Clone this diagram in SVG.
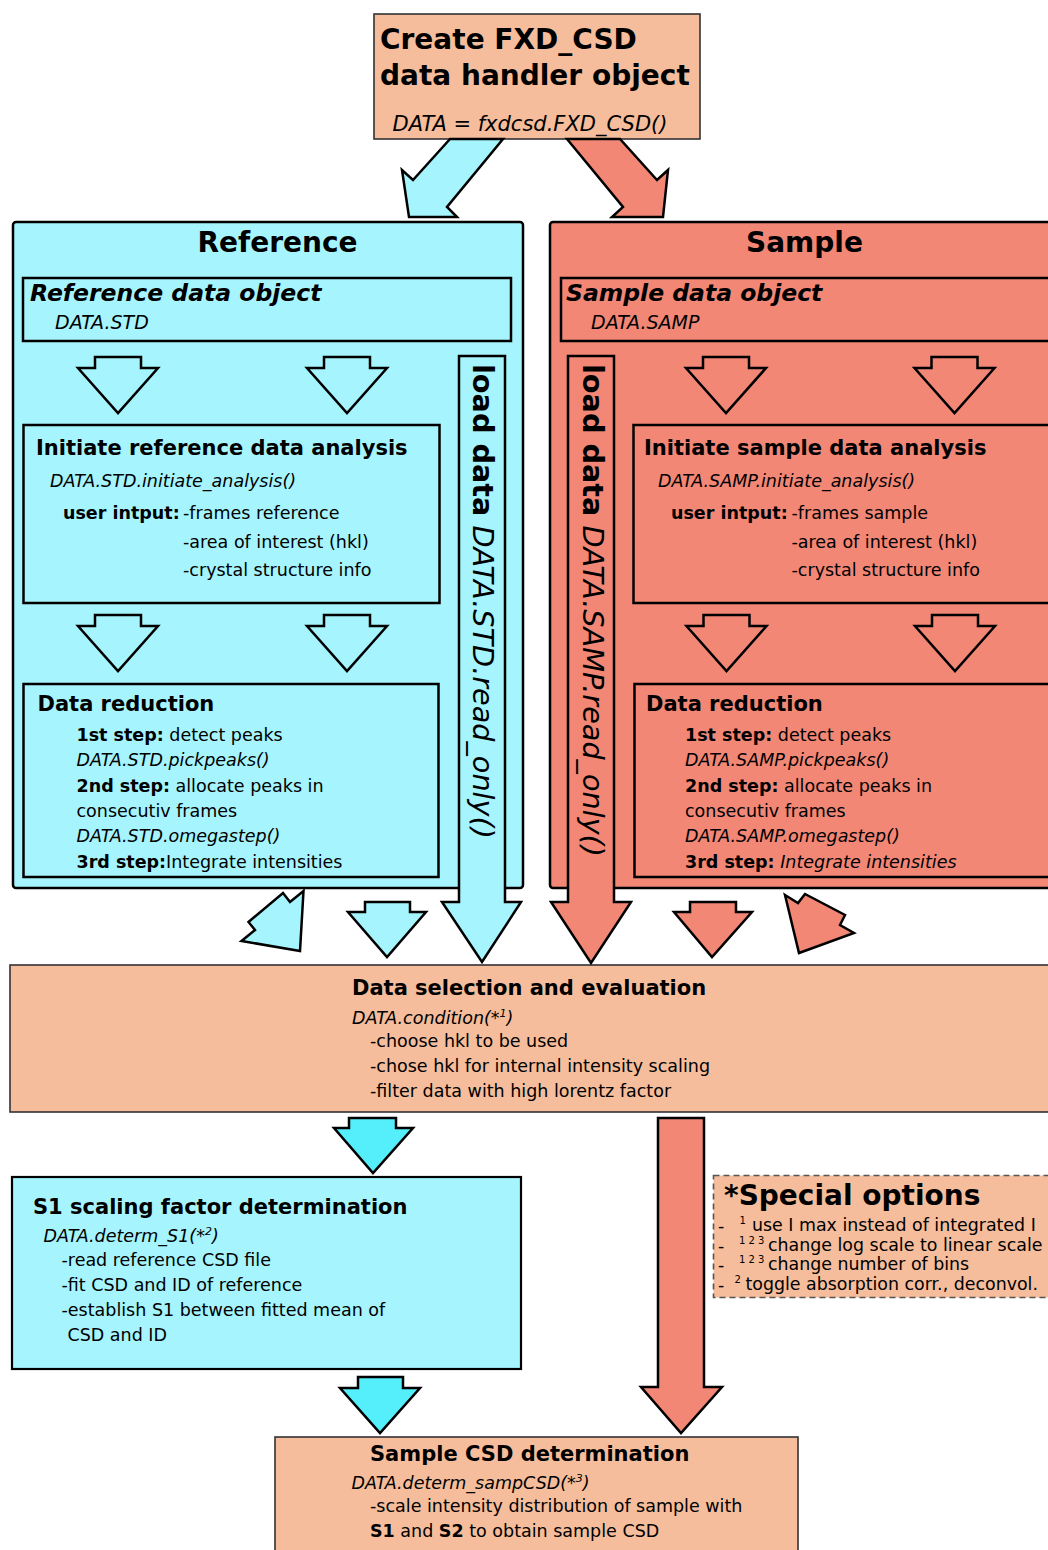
<svg xmlns="http://www.w3.org/2000/svg" xmlns:xlink="http://www.w3.org/1999/xlink" width="1048" height="1550" viewBox="0 0 1048 1550">
<style>
text{font-family:"DejaVu Sans","Liberation Sans",sans-serif;fill:#000}
.body{font-size:17.5px}
.h{font-size:21px;font-weight:bold}
.big{font-size:28px;font-weight:bold}
.obj{font-size:23.5px;font-weight:bold;font-style:italic}
.sub{font-size:19px;font-style:italic}
.b{font-weight:bold}
.i{font-style:italic}
.sup{font-size:11px}
.sp{font-size:10px}
.peach{fill:#f5bd9b;stroke:#333;stroke-width:1.6}
.frame{fill:none;stroke:#000;stroke-width:2.5}
.ar{stroke:#000;stroke-width:2.5;stroke-linejoin:miter}
.hollow{fill:none;stroke:#000;stroke-width:2.5}
.cyan{fill:#a6f4fe}
.salmon{fill:#f28776}
.bright{fill:#55effc}
</style>
<defs>
<path id="hollow" d="M-23,0 H23 V11 H40 L0,56 L-40,11 H-23 Z"/>
</defs>

<g id="node-create">
<rect x="374" y="14" width="326" height="125" class="peach"/>
<text x="380" y="48.5" class="big">Create FXD_CSD</text>
<text x="380" y="85" class="big">data handler object</text>
<text x="392.5" y="131" class="i" font-size="21">DATA = fxdcsd.FXD_CSD()</text>
</g>

<g id="node-reference">
<rect x="13" y="222" width="510" height="666" rx="3" class="cyan" stroke="#000" stroke-width="2.5"/>
<text x="277.5" y="252" class="big" text-anchor="middle">Reference</text>
</g>

<g id="node-sample">
<rect x="550" y="222" width="520" height="666" rx="3" class="salmon" stroke="#000" stroke-width="2.5"/>
<text x="804.5" y="252" class="big" text-anchor="middle">Sample</text>
</g>

<g id="node-ref-object">
<rect x="23" y="278" width="488" height="63" class="frame"/>
<text x="30" y="301" class="obj">Reference data object</text>
<text x="55" y="329" class="sub">DATA.STD</text>
</g>

<g id="node-samp-object">
<rect x="561" y="278" width="500" height="63" class="frame"/>
<text x="566" y="301" class="obj">Sample data object</text>
<text x="591" y="329" class="sub">DATA.SAMP</text>
</g>

<g id="node-ref-init">
<rect x="23.5" y="425" width="416" height="178" class="frame"/>
<text x="36" y="455" class="h">Initiate reference data analysis</text>
<text x="50" y="487" class="body i">DATA.STD.initiate_analysis()</text>
<text x="63" y="519" class="body b">user intput:</text>
<text x="183" y="519" class="body">-frames reference</text>
<text x="183" y="547.5" class="body">-area of interest (hkl)</text>
<text x="183" y="576" class="body">-crystal structure info</text>
</g>

<g id="node-samp-init">
<rect x="633.5" y="425" width="430" height="178" class="frame"/>
<text x="644" y="455" class="h">Initiate sample data analysis</text>
<text x="658" y="487" class="body i">DATA.SAMP.initiate_analysis()</text>
<text x="671" y="519" class="body b">user intput:</text>
<text x="791.5" y="519" class="body">-frames sample</text>
<text x="791.5" y="547.5" class="body">-area of interest (hkl)</text>
<text x="791.5" y="576" class="body">-crystal structure info</text>
</g>

<g id="node-ref-reduction">
<rect x="23.5" y="684" width="415" height="193" class="frame"/>
<text x="37.5" y="711" class="h">Data reduction</text>
<text x="76.5" y="741" class="body"><tspan class="b">1st step:</tspan> detect peaks</text>
<text x="76.5" y="766" class="body i">DATA.STD.pickpeaks()</text>
<text x="76.5" y="792" class="body"><tspan class="b">2nd step:</tspan> allocate peaks in</text>
<text x="76.5" y="817" class="body">consecutiv frames</text>
<text x="76.5" y="842" class="body i">DATA.STD.omegastep()</text>
<text x="76.5" y="867.5" class="body"><tspan class="b">3rd step:</tspan>Integrate intensities</text>
</g>

<g id="node-samp-reduction">
<rect x="634.5" y="684" width="430" height="193" class="frame"/>
<text x="646" y="711" class="h">Data reduction</text>
<text x="685" y="741" class="body"><tspan class="b">1st step:</tspan> detect peaks</text>
<text x="685" y="766" class="body i">DATA.SAMP.pickpeaks()</text>
<text x="685" y="792" class="body"><tspan class="b">2nd step:</tspan> allocate peaks in</text>
<text x="685" y="817" class="body">consecutiv frames</text>
<text x="685" y="842" class="body i">DATA.SAMP.omegastep()</text>
<text x="685" y="867.5" class="body"><tspan class="b">3rd step:</tspan> <tspan class="i">Integrate intensities</tspan></text>
</g>

<g id="node-selection">
<rect x="10" y="965" width="1050" height="147" class="peach"/>
<text x="352" y="995" class="h">Data selection and evaluation</text>
<text x="352" y="1024" class="body i">DATA.condition(*<tspan class="sup" dy="-7">1</tspan><tspan dy="7">)</tspan></text>
<text x="370" y="1047" class="body">-choose hkl to be used</text>
<text x="370" y="1072" class="body">-chose hkl for internal intensity scaling</text>
<text x="370" y="1097" class="body">-filter data with high lorentz factor</text>
</g>

<g id="node-s1">
<rect x="12" y="1177" width="509" height="192" class="cyan" stroke="#000" stroke-width="2.2"/>
<text x="33" y="1214" class="h">S1 scaling factor determination</text>
<text x="43.5" y="1242" class="body i">DATA.determ_S1(*<tspan class="sup" dy="-7">2</tspan><tspan dy="7">)</tspan></text>
<text x="61.5" y="1266" class="body">-read reference CSD file</text>
<text x="61.5" y="1291" class="body">-fit CSD and ID of reference</text>
<text x="61.5" y="1316" class="body">-establish S1 between fitted mean of</text>
<text x="67.5" y="1341" class="body">CSD and ID</text>
</g>

<g id="node-special">
<rect x="713.5" y="1175.5" width="345" height="122" fill="#f5bd9b" stroke="#555" stroke-width="1.6" stroke-dasharray="6,4"/>
<text x="724" y="1205" class="big">*Special options</text>
<text y="1231" font-size="17.4px"><tspan x="718" dy="1">-</tspan><tspan x="739.5" class="sp" dy="-8">1</tspan><tspan x="752" dy="7">use I max instead of integrated I</tspan></text>
<text y="1250.5" font-size="17.4px"><tspan x="718" dy="1">-</tspan><tspan x="739" class="sp" dy="-8">1 2 3</tspan><tspan x="768" dy="7">change log scale to linear scale</tspan></text>
<text y="1270" font-size="17.4px"><tspan x="718" dy="1">-</tspan><tspan x="739" class="sp" dy="-8">1 2 3</tspan><tspan x="768" dy="7">change number of bins</tspan></text>
<text y="1290" font-size="17.4px"><tspan x="718" dy="1">-</tspan><tspan x="734.5" class="sp" dy="-8">2</tspan><tspan x="745.5" dy="7">toggle absorption corr., deconvol.</tspan></text>
</g>

<g id="node-sampcsd">
<rect x="275" y="1437" width="523" height="130" class="peach"/>
<text x="370" y="1461" class="h">Sample CSD determination</text>
<text x="351.5" y="1489" class="body i">DATA.determ_sampCSD(*<tspan class="sup" dy="-7">3</tspan><tspan dy="7">)</tspan></text>
<text x="370" y="1512" class="body">-scale intensity distribution of sample with</text>
<text x="370" y="1537" class="body"><tspan class="b">S1</tspan> and <tspan class="b">S2</tspan> to obtain sample CSD</text>
</g>

<g id="connectors">
<polygon class="ar cyan" points="450,139 413,180 402,170 409,217 457,217 447,207 503,139"/>
<polygon class="ar salmon" points="567,139 623,207 612,217 663,217 668,170 657,180 620,139"/>
<use xlink:href="#hollow" x="118" y="357" class="hollow"/>
<use xlink:href="#hollow" x="347" y="357" class="hollow"/>
<use xlink:href="#hollow" x="118" y="615" class="hollow"/>
<use xlink:href="#hollow" x="347" y="615" class="hollow"/>
<use xlink:href="#hollow" x="726" y="357" class="hollow"/>
<use xlink:href="#hollow" x="954.5" y="357" class="hollow"/>
<use xlink:href="#hollow" x="726.5" y="615" class="hollow"/>
<use xlink:href="#hollow" x="955" y="615" class="hollow"/>
<g id="load-ref">
<path class="ar cyan" d="M459,356 H505 V902 H521 L482,962 L442,902 H459 Z"/>
<text transform="translate(473,364) rotate(90)" font-size="28.7px"><tspan class="b">load data</tspan> <tspan class="i">DATA.STD.read_only()</tspan></text>
</g>
<g id="load-samp">
<path class="ar salmon" d="M568,356 H614 V902 H631 L591,963 L551,902 H568 Z"/>
<text transform="translate(583,364) rotate(90)" font-size="28.7px"><tspan class="b">load data</tspan> <tspan class="i">DATA.SAMP.read_only()</tspan></text>
</g>
<polygon class="ar cyan" points="283,893 290,902 303.5,891 300,951 241.5,941 255,930 248.5,922"/>
<path class="ar cyan" d="M365,902 H410 V912 H426 L387,957 L348,912 H365 Z"/>
<path class="ar salmon" d="M690,902 H736 V912 H752 L712,957 L674,912 H690 Z"/>
<polygon class="ar salmon" points="785,895 798,903 805,894 845,915 840,925 854,933 799,953"/>
<path class="ar bright" d="M349,1118 H396 V1128 H413 L373,1173 L334,1128 H349 Z"/>
<path class="ar bright" d="M358,1377 H403 V1388 H420 L380,1433 L340,1388 H358 Z"/>
<path class="ar salmon" d="M658,1118 H704 V1387 H722 L681,1433 L641,1387 H658 Z"/>
</g>
</svg>
